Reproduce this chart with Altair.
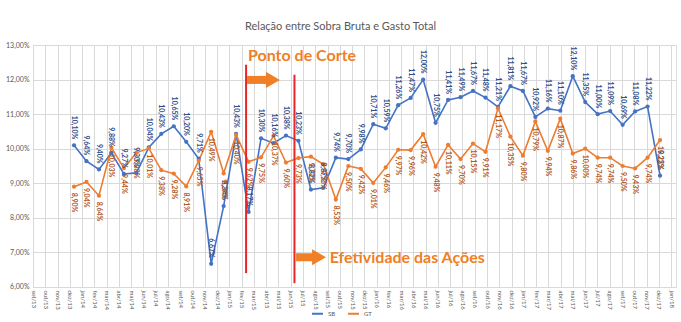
import altair as alt
import pandas as pd

# ---------------- data ----------------
meses = ["set/13", "out/13", "nov/13", "dez/13", "jan/14", "fev/14", "mar/14", "abr/14",
         "mai/14", "jun/14", "jul/14", "ago/14", "set/14", "out/14", "nov/14", "dez/14",
         "jan/15", "fev/15", "mar/15", "abr/15", "mai/15", "jun/15", "jul/15", "ago/15",
         "set/15", "out/15", "nov/15", "dez/15", "jan/16", "fev/16", "mar/16", "abr/16",
         "mai/16", "jun/16", "jul/16", "ago/16", "set/16", "out/16", "nov/16", "dez/16",
         "jan/17", "fev/17", "mar/17", "abr/17", "mai/17", "jun/17", "jul/17", "ago/17",
         "set/17", "out/17", "nov/17", "dez/17", "jan/18"]

sb = [10.10, 9.64, 9.40, 9.88, 9.27, 9.30, 10.04, 10.43, 10.65, 10.20,
      9.71, 6.67, 8.34, 10.43, 8.17, 10.30, 10.16, 10.38, 10.23, 8.82,
      8.87, 9.74, 9.70, 9.98, 10.71, 10.59, 11.26, 11.47, 12.00, 10.75,
      11.41, 11.49, 11.67, 11.48, 11.21, 11.81, 11.67, 10.92, 11.16, 11.10,
      12.10, 11.35, 11.00, 11.09, 10.69, 11.08, 11.22, 9.22]

gt = [8.90, 9.04, 8.64, 10.03, 9.44, 9.88, 10.01, 9.38, 9.28, 8.91,
      9.65, 10.49, 9.29, 10.40, 9.62, 9.75, 10.37, 9.60, 9.73, 9.77,
      9.55, 8.53, 9.50, 9.42, 9.01, 9.46, 9.97, 9.96, 10.42, 9.48,
      10.11, 9.70, 10.15, 9.91, 11.17, 10.35, 9.80, 10.79, 9.94, 10.87,
      9.86, 10.00, 9.74, 9.74, 9.50, 9.43, 9.74, 10.25]

y_ticks = [6, 7, 8, 9, 10, 11, 12, 13]

series = ["SB", "GT"]
line_colors = ["#4472C4", "#ED7D31"]
text_colors = ["#2F4E8C", "#B55A1C"]

rows = []
for nome, vals in zip(series, [sb, gt]):
    for i, v in enumerate(vals):
        rows.append({"i": i, "serie": nome, "v": v,
                     "rotulo": f"{v:.2f}".replace(".", ",") + "%"})
df = pd.DataFrame(rows)
df_months = pd.DataFrame({"m": list(range(len(meses)))})

# annotations (in point-index / value units)
cortes = pd.DataFrame({"i": [13.8, 17.68], "v1": [6.40, 6.11], "v2": [12.43, 12.14]})
setas = pd.DataFrame({"i": [13.88, 17.81], "i2": [15.75, 19.45], "v": [11.99, 6.86]})
pontas = pd.DataFrame({"i": [15.95, 19.65], "v": [11.99, 6.86]})
textos = pd.DataFrame({"i": [13.95, 20.5], "v": [12.69, 6.84],
                       "t": ["Ponto de Corte", "Efetividade das Ações"]})

FONT = "Lato"
xs = alt.Scale(domain=[-3.29, 48.28], nice=False, zero=False)
ys = alt.Scale(domain=[5.9995, 13.0005], nice=False, zero=False)

# ---------------- month axis layer ----------------
label_expr = "[" + ",".join(f"'{m}'" for m in meses) + "][datum.value]"
axis_layer = alt.Chart(df_months).mark_point(opacity=0).encode(
    x=alt.X("m:Q", scale=alt.Scale(domain=[-0.001, 52.4], nice=False, zero=False),
            axis=alt.Axis(values=list(range(len(meses))), tickCount=100,
                          labelExpr=label_expr,
                          grid=True, gridColor="#D9D9D9", ticks=False, domain=False,
                          labelAngle=90, labelFontSize=6, labelColor="#595959",
                          labelPadding=3, labelFont=FONT, title=None,
                          labelOverlap=False)),
    y=alt.value(0),
)

# ---------------- main layer ----------------
X = alt.X("i:Q", scale=xs, axis=None)
Y = alt.Y("v:Q", scale=ys,
          axis=alt.Axis(values=y_ticks, tickCount=20,
                        labelExpr="replace(format(datum.value, '.2f'), '.', ',') + '%'",
                        grid=True, gridColor="#D9D9D9", domain=False, ticks=False,
                        labelFontSize=7, labelColor="#595959", labelFont=FONT,
                        labelPadding=4, title=None, labelOverlap=False,
                        labelFlush=False))
color = alt.Color("serie:N", scale=alt.Scale(domain=series, range=line_colors),
                  legend=alt.Legend(orient="none", legendX=278, legendY=262,
                                    direction="horizontal", title=None,
                                    labelFontSize=6, labelFont=FONT, labelColor="#595959",
                                    symbolType="stroke", symbolSize=120,
                                    symbolStrokeWidth=2, columnPadding=8))

lines = alt.Chart(df).mark_line(strokeWidth=1.6).encode(x=X, y=Y, color=color,
                                                         detail="serie:N")
points = alt.Chart(df).mark_point(filled=True, size=18, opacity=1).encode(
    x=X, y=Y, color=alt.Color("serie:N", scale=alt.Scale(domain=series, range=line_colors),
                              legend=None))

lab_sb = alt.Chart(df[df.serie == "SB"]).mark_text(
    angle=90, align="right", baseline="middle", dx=-6, fontSize=7,
    fontWeight="bold", font=FONT, color=text_colors[0]).encode(x=X, y=Y, text="rotulo:N")
lab_gt = alt.Chart(df[df.serie == "GT"]).mark_text(
    angle=90, align="left", baseline="middle", dx=6, fontSize=7,
    fontWeight="bold", font=FONT, color=text_colors[1]).encode(x=X, y=Y, text="rotulo:N")

rules = alt.Chart(cortes).mark_rule(color="#E8262A", strokeWidth=2).encode(
    x=alt.X("i:Q", scale=xs, axis=None),
    y=alt.Y("v1:Q", scale=ys), y2="v2:Q")
shafts = alt.Chart(setas).mark_rule(color="#F07F25", strokeWidth=8).encode(
    x=alt.X("i:Q", scale=xs, axis=None), x2="i2:Q",
    y=alt.Y("v:Q", scale=ys))
heads = alt.Chart(pontas).mark_point(shape="triangle-right", filled=True, size=260,
                                     color="#F07F25", opacity=1).encode(
    x=alt.X("i:Q", scale=xs, axis=None), y=alt.Y("v:Q", scale=ys))
notes = alt.Chart(textos).mark_text(align="left", baseline="middle", fontSize=16,
                                    fontWeight="bold", font=FONT, color="#F07F25").encode(
    x=alt.X("i:Q", scale=xs, axis=None), y=alt.Y("v:Q", scale=ys), text="t:N")

main = alt.layer(lines, points, lab_sb, lab_gt, rules, shafts, heads, notes)

chart = alt.layer(axis_layer, main).resolve_scale(x="independent").properties(
    width=643, height=242,
    padding={"left": 33, "top": 45, "right": 5, "bottom": 35},
    autosize=alt.AutoSizeParams(type="none"),
    title=alt.Title("Relação entre Sobra Bruta e Gasto Total", fontSize=11,
                    color="#595959", font=FONT, fontWeight="normal", offset=9, dx=-14,
                    frame="group"),
).configure_view(stroke=None).configure(background="white")

chart.save("out.html", embed_options={"renderer": "svg", "actions": False})
